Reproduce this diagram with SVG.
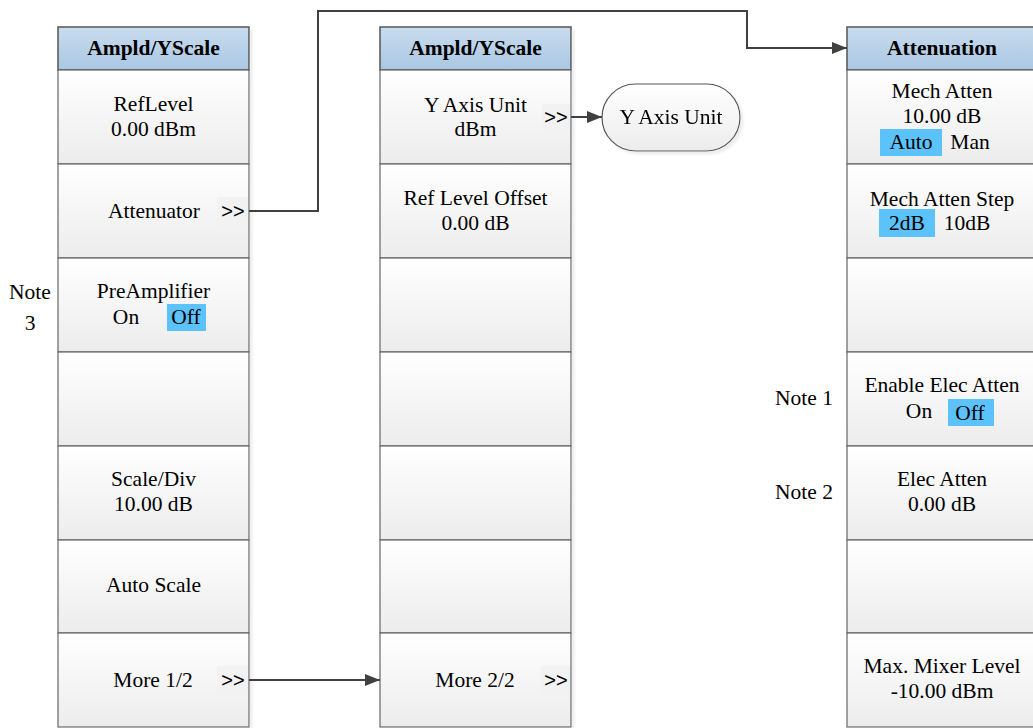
<svg xmlns="http://www.w3.org/2000/svg" width="1033" height="728" viewBox="0 0 1033 728">
<defs>
<linearGradient id="hdr" x1="0" y1="0" x2="0" y2="1"><stop offset="0" stop-color="#c9dcee"/><stop offset="1" stop-color="#a9c7e2"/></linearGradient>
<linearGradient id="cell" x1="0" y1="0" x2="0" y2="1"><stop offset="0" stop-color="#ffffff"/><stop offset="1" stop-color="#ececec"/></linearGradient>
<marker id="arr" markerWidth="16" markerHeight="14" refX="15" refY="7" orient="auto" markerUnits="userSpaceOnUse"><path d="M0,1 L15,7 L0,13 z" fill="#404040"/></marker>
<filter id="sh" x="-5%" y="-5%" width="115%" height="115%"><feOffset dx="3" dy="3"/><feGaussianBlur stdDeviation="1"/><feColorMatrix type="matrix" values="0 0 0 0 0.8  0 0 0 0 0.8  0 0 0 0 0.8  0 0 0 0.7 0"/><feBlend in="SourceGraphic"/></filter>
</defs>
<style>
.hdr{fill:url(#hdr);stroke:#555;stroke-width:1.5}
.cell{fill:url(#cell);stroke:#666;stroke-width:1.2}
.t{font-family:"Liberation Serif",serif;font-size:21.5px;fill:#000;text-anchor:middle}
.b{font-weight:bold}
.g{font-family:"Liberation Sans",sans-serif;font-size:20px;fill:#000;text-anchor:middle}
.gb{fill:#f2f2f2}
.hl{fill:#5bc2fb}
.c{fill:none;stroke:#404040;stroke-width:2}
</style>
<rect width="1033" height="728" fill="#fff"/>

<g id="col1" filter="url(#sh)">
<rect class="hdr" x="58" y="27" width="191" height="43"/>
<rect class="cell" x="58" y="70" width="191" height="94"/>
<rect class="cell" x="58" y="164" width="191" height="94"/>
<rect class="cell" x="58" y="258" width="191" height="94"/>
<rect class="cell" x="58" y="352" width="191" height="94"/>
<rect class="cell" x="58" y="446" width="191" height="94"/>
<rect class="cell" x="58" y="540" width="191" height="93"/>
<rect class="cell" x="58" y="633" width="191" height="94"/>
</g>
<g id="col1-text">
<text class="t b" x="153.5" y="55">Ampld/YScale</text>
<text class="t" x="153.5" y="111">RefLevel</text>
<text class="t" x="153.5" y="136">0.00 dBm</text>
<text class="t" x="154" y="218">Attenuator</text>
<rect class="gb" x="217" y="197" width="31" height="29"/>
<text class="g" x="233" y="218">&gt;&gt;</text>
<text class="t" x="153.5" y="298">PreAmplifier</text>
<text class="t" x="126" y="324">On</text>
<rect class="hl" x="167" y="304" width="39" height="27"/>
<text class="t" x="186" y="324">Off</text>
<text class="t" x="153.5" y="486">Scale/Div</text>
<text class="t" x="153.5" y="511">10.00 dB</text>
<text class="t" x="153.5" y="592">Auto Scale</text>
<text class="t" x="153" y="687">More 1/2</text>
<rect class="gb" x="217" y="666" width="31" height="29"/>
<text class="g" x="233" y="687">&gt;&gt;</text>
</g>

<g id="col2" filter="url(#sh)">
<rect class="hdr" x="380" y="27" width="191" height="43"/>
<rect class="cell" x="380" y="70" width="191" height="94"/>
<rect class="cell" x="380" y="164" width="191" height="94"/>
<rect class="cell" x="380" y="258" width="191" height="94"/>
<rect class="cell" x="380" y="352" width="191" height="94"/>
<rect class="cell" x="380" y="446" width="191" height="94"/>
<rect class="cell" x="380" y="540" width="191" height="93"/>
<rect class="cell" x="380" y="633" width="191" height="94"/>
</g>
<g id="col2-text">
<text class="t b" x="475.5" y="55">Ampld/YScale</text>
<text class="t" x="475.5" y="112">Y Axis Unit</text>
<text class="t" x="475.5" y="136">dBm</text>
<rect class="gb" x="542" y="104" width="28" height="27"/>
<text class="g" x="556" y="124">&gt;&gt;</text>
<text class="t" x="475.5" y="205">Ref Level Offset</text>
<text class="t" x="475.5" y="230">0.00 dB</text>
<text class="t" x="475" y="687">More 2/2</text>
<rect class="gb" x="541" y="666" width="29" height="29"/>
<text class="g" x="556" y="687">&gt;&gt;</text>
</g>

<g id="yaxis" filter="url(#sh)">
<rect x="602" y="84" width="138" height="67" rx="33.5" ry="33.5" fill="url(#cell)" stroke="#555" stroke-width="1.2"/>
<text class="t" x="671" y="124">Y Axis Unit</text>
</g>

<g id="col3" filter="url(#sh)">
<rect class="hdr" x="847" y="27" width="191" height="43"/>
<rect class="cell" x="847" y="70" width="191" height="94"/>
<rect class="cell" x="847" y="164" width="191" height="94"/>
<rect class="cell" x="847" y="258" width="191" height="94"/>
<rect class="cell" x="847" y="352" width="191" height="94"/>
<rect class="cell" x="847" y="446" width="191" height="94"/>
<rect class="cell" x="847" y="540" width="191" height="93"/>
<rect class="cell" x="847" y="633" width="191" height="94"/>
</g>
<g id="col3-text">
<text class="t b" x="942" y="55">Attenuation</text>
<text class="t" x="942" y="98">Mech Atten</text>
<text class="t" x="942" y="123">10.00 dB</text>
<rect class="hl" x="880" y="129" width="62" height="27"/>
<text class="t" x="911" y="149">Auto</text>
<text class="t" x="970" y="149">Man</text>
<text class="t" x="942" y="206">Mech Atten Step</text>
<rect class="hl" x="879" y="209" width="56" height="28"/>
<text class="t" x="907" y="230">2dB</text>
<text class="t" x="967" y="230">10dB</text>
<text class="t" x="942" y="392">Enable Elec Atten</text>
<text class="t" x="919" y="418">On</text>
<rect class="hl" x="948" y="399" width="46" height="27"/>
<text class="t" x="970" y="420">Off</text>
<text class="t" x="942" y="486">Elec Atten</text>
<text class="t" x="942" y="511">0.00 dB</text>
<text class="t" x="942" y="673">Max. Mixer Level</text>
<text class="t" x="942" y="698">-10.00 dBm</text>
</g>

<g id="notes">
<text class="t" x="30" y="299">Note</text>
<text class="t" x="30" y="330">3</text>
<text class="t" x="804" y="405">Note 1</text>
<text class="t" x="804" y="499">Note 2</text>
</g>

<g id="connectors">
<path class="c" d="M249,211 H318 V11 H747 V48 H847" marker-end="url(#arr)"/>
<path class="c" d="M571,117 H602" marker-end="url(#arr)"/>
<path class="c" d="M249,680 H380" marker-end="url(#arr)"/>
</g>
</svg>
